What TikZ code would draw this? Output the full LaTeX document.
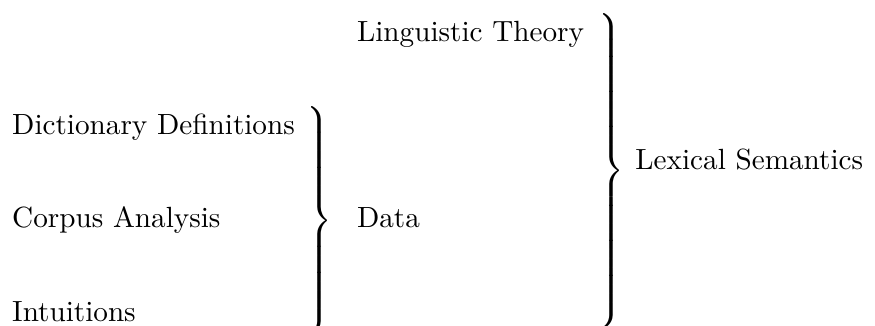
\documentclass[tikz,border=0pt]{standalone}
\delimiterfactor=1000
\delimitershortfall=0pt
\newcommand{\tallbrace}[1]{$\left.\vcenter{\hrule height #1 width 0pt}\right\}$}
\begin{document}
\begin{tikzpicture}[
  entry/.style={anchor=base west, inner sep=0pt},
  bracket/.style={anchor=south, inner sep=0pt}
]
\useasboundingbox (0,0) rectangle (10.53,3.92);
\node[entry] (LT) at (4.29,3.42) {Linguistic Theory};
\node[entry] (DD) at (0.14,2.30) {Dictionary Definitions};
\node[entry] (CA) at (0.14,1.18) {Corpus Analysis};
\node[entry] (IN) at (0.14,0.05) {Intuitions};
\node[entry] (DA) at (4.29,1.18) {Data};
\node[entry] (LS) at (7.64,1.88) {Lexical Semantics};
\node[bracket] (B1) at (3.82,-0.11) {\tallbrace{73pt}};
\node[bracket] (B2) at (7.34,-0.04) {\tallbrace{104pt}};
\end{tikzpicture}
\end{document}
